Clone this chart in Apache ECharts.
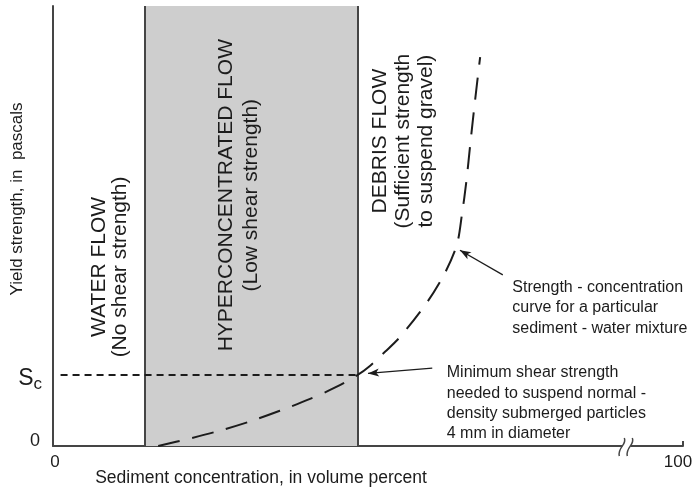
<!DOCTYPE html>
<html>
<head>
<meta charset="utf-8">
<script src="https://cdn.jsdelivr.net/npm/echarts@6/dist/echarts.min.js"></script>
<style>
  html, body { margin: 0; padding: 0; background: #ffffff; }
  #chart { width: 694px; height: 492px; }
</style>
</head>
<body>
<div id="chart"></div>
<script>
// Strength - concentration curve (volume percent, relative yield strength)
const concentration = [16.7, 21.7, 26.5, 31.3, 36.0, 40.8, 44.8, 48.3, 50.3, 52.7, 55.1, 59.4, 62.2, 64.1, 64.9, 65.6, 66.3, 67.0, 67.8];
const yieldStrength = [0, 1.7, 3.5, 5.6, 8.0, 10.7, 13.3, 16.1, 18.2, 21.4, 24.8, 32.7, 39.3, 45.7, 52.5, 60.0, 69.5, 78.6, 88.4];

// Flow regime boundaries (volume percent) and minimum shear strength Sc
const hyperconcentratedStart = 14.6;
const debrisStart = 48.3;
const minShearStrength = 16.1;

// Axis ticks
const xTickValues = [0, 100];
const xTickLabels = ['0', '100'];
const yTickValues = [0, minShearStrength];
const yTickLabels = ['0', 'Sc'];

// Where the x axis is broken
const axisBreakAt = 91;

const FONT = 'Liberation Sans, Arial, sans-serif';
const INK = '#1c1c1c';
const AXIS = '#454545';

const curve = concentration.map((c, i) => [c, yieldStrength[i]]);

const chart = echarts.init(document.getElementById('chart'), null, { renderer: 'canvas' });

function regimeLabel(coord, text, lineHeight) {
  return {
    coord: coord,
    symbol: 'circle',
    symbolSize: 0,
    label: {
      show: true,
      position: 'inside',
      rotate: 90,
      formatter: text,
      fontFamily: FONT,
      fontSize: 21,
      lineHeight: lineHeight,
      color: INK,
      align: 'center',
      verticalAlign: 'middle'
    }
  };
}

function noteLabel(coord, text) {
  return {
    coord: coord,
    symbol: 'circle',
    symbolSize: 0,
    label: {
      show: true,
      position: 'right',
      distance: 0,
      formatter: text,
      fontFamily: FONT,
      fontSize: 16,
      lineHeight: 20.3,
      color: INK,
      align: 'left',
      verticalAlign: 'middle'
    }
  };
}

const option = {
  backgroundColor: '#ffffff',
  animation: false,
  grid: { left: 53, right: 11, top: 6, bottom: 46, containLabel: false, outerBoundsMode: 'none' },
  xAxis: {
    type: 'value',
    min: 0,
    max: 100,
    interval: 100,
    name: 'Sediment concentration, in volume percent',
    nameLocation: 'middle',
    nameGap: 23,
    nameMoveOverlap: false,
    nameTextStyle: {
      fontFamily: FONT, fontSize: 17.5, color: INK,
      padding: [0, 214, 0, 0]
    },
    axisLine: { show: true, lineStyle: { color: AXIS, width: 2 } },
    axisTick: {
      show: true, inside: true, length: 5,
      customValues: [100],
      lineStyle: { color: AXIS, width: 2 }
    },
    axisLabel: {
      show: true,
      customValues: xTickValues,
      margin: 8,
      formatter: v => v === 0 ? '{a|' + xTickLabels[0] + '}' : '{b|' + xTickLabels[1] + '}',
      rich: {
        a: { fontFamily: FONT, fontSize: 17, color: INK, padding: [0, 0, 0, 4] },
        b: { fontFamily: FONT, fontSize: 17, color: INK, padding: [0, 10, 0, 0] }
      }
    },
    splitLine: { show: false }
  },
  yAxis: {
    type: 'value',
    min: 0,
    max: 100,
    name: 'Yield strength, in  pascals',
    nameLocation: 'middle',
    nameRotate: 90,
    nameGap: 27,
    nameMoveOverlap: false,
    nameTextStyle: {
      fontFamily: FONT, fontSize: 17, color: INK,
      padding: [0, 0, 0, 54]
    },
    axisLine: { show: true, lineStyle: { color: AXIS, width: 2 } },
    axisTick: { show: false },
    axisLabel: {
      show: true,
      customValues: yTickValues,
      margin: 11,
      formatter: v => v === 0
        ? '{z|' + yTickLabels[0] + '}'
        : '{s|' + yTickLabels[1].charAt(0) + '}{c|' + yTickLabels[1].charAt(1) + '}',
      rich: {
        z: { fontFamily: FONT, fontSize: 18, color: INK, padding: [0, 2, 10, 0] },
        s: { fontFamily: FONT, fontSize: 23, color: INK, padding: [6, 0, 0, 0] },
        c: { fontFamily: FONT, fontSize: 17, color: INK, padding: [18, 0, 0, 0] }
      }
    },
    splitLine: { show: false }
  },
  series: [
    {
      // Flow regimes: shaded hyperconcentrated band, boundaries, Sc level, call-outs
      type: 'line',
      data: [],
      silent: true,
      z: 1,
      markArea: {
        silent: true,
        itemStyle: { color: '#cecece' },
        data: [[{ xAxis: hyperconcentratedStart }, { xAxis: debrisStart }]]
      },
      markLine: {
        silent: true,
        symbol: ['none', 'none'],
        label: { show: false },
        lineStyle: { color: AXIS, width: 2, type: 'solid' },
        data: [
          { xAxis: hyperconcentratedStart },
          { xAxis: debrisStart },
          [
            { coord: [1.2, minShearStrength], lineStyle: { color: INK, width: 1.8, type: [7, 5] } },
            { coord: [debrisStart, minShearStrength] }
          ],
          [
            { coord: [71.4, 38.9], symbol: 'none', lineStyle: { color: INK, width: 1.3, type: 'solid' } },
            { coord: [64.6, 44.5], symbol: 'arrow', symbolSize: [6, 11] }
          ],
          [
            { coord: [60.2, 17.7], symbol: 'none', lineStyle: { color: INK, width: 1.3, type: 'solid' } },
            { coord: [50.0, 16.5], symbol: 'arrow', symbolSize: [6, 11] }
          ]
        ]
      },
      markPoint: {
        silent: true,
        data: [
          regimeLabel([9.0, 40.7], 'WATER FLOW\n(No shear strength)', 21),
          regimeLabel([29.5, 57.0], 'HYPERCONCENTRATED FLOW\n(Low shear strength)', 25),
          regimeLabel([55.6, 69.3], 'DEBRIS FLOW\n(Sufficient strength\nto suspend gravel)', 23),
          noteLabel([72.9, 31.4], 'Strength - concentration\ncurve for a particular\nsediment - water mixture'),
          noteLabel([62.5, 9.7], 'Minimum shear strength\nneeded to suspend normal -\ndensity submerged particles\n4 mm in diameter')
        ]
      }
    },
    {
      type: 'line',
      name: 'Strength - concentration curve',
      data: curve,
      z: 5,
      showSymbol: false,
      smooth: 0.3,
      lineStyle: { color: INK, width: 2, type: [22, 13] }
    }
  ]
};

chart.setOption(option);

// Axis break marks on the x axis
const p = chart.convertToPixel({ gridIndex: 0 }, [axisBreakAt, 0]);
const bx = p[0], by = p[1];
function breakStroke(dx) {
  return {
    type: 'bezierCurve',
    shape: {
      x1: bx + dx - 3, y1: by + 10,
      cpx1: bx + dx - 5, cpy1: by + 1,
      cpx2: bx + dx + 5, cpy2: by - 1,
      x2: bx + dx + 2, y2: by - 8
    },
    style: { stroke: AXIS, lineWidth: 1.5, fill: null },
    z: 100
  };
}
chart.setOption({
  graphic: [
    { type: 'rect', shape: { x: bx - 4, y: by - 3, width: 8, height: 6 }, style: { fill: '#ffffff' }, z: 99 },
    breakStroke(-4),
    breakStroke(4)
  ]
});
</script>
</body>
</html>
